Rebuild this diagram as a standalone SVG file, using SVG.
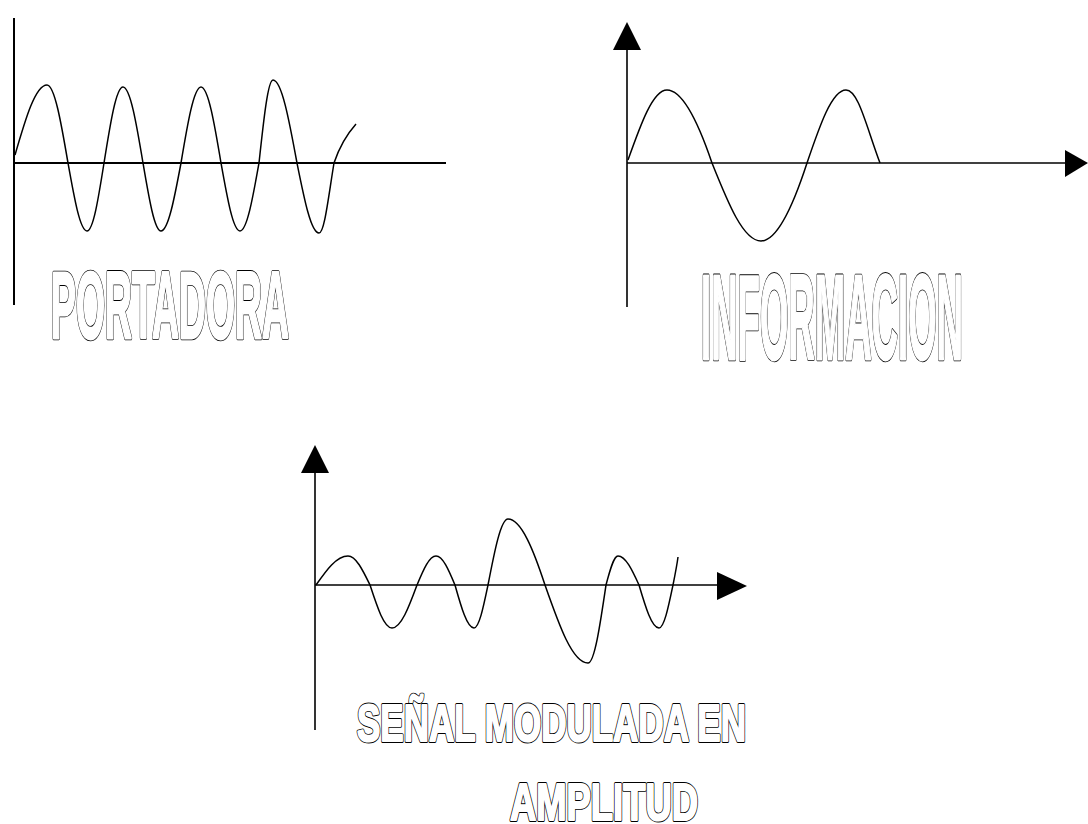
<svg xmlns="http://www.w3.org/2000/svg" width="1088" height="824" viewBox="0 0 1088 824">
<style>
.axis{stroke:#000;stroke-width:2;fill:none}
.axis2{stroke:#000;stroke-width:1.6;fill:none}
.wave{stroke:#000;stroke-width:1.5;fill:none;stroke-linejoin:round}
.lbl{font-family:"Liberation Sans",Arial,sans-serif;font-weight:bold}
.o1{fill:#000;stroke:#000;stroke-width:4.6;stroke-linejoin:round}
.o2{fill:#fff;stroke:#fff;stroke-width:2.8;stroke-linejoin:round}
.s1{fill:#000;stroke:#000;stroke-width:4;stroke-linejoin:round}
.s2{fill:#fff;stroke:#fff;stroke-width:2.2;stroke-linejoin:round}
.head{fill:#000;stroke:none}
</style>
<defs>
<text id="t-portadora" class="lbl" x="51" y="338" font-size="94" textLength="238" lengthAdjust="spacingAndGlyphs">PORTADORA</text>
<text id="t-informacion" class="lbl" x="701" y="359" font-size="120" textLength="262" lengthAdjust="spacingAndGlyphs">INFORMACION</text>
<text id="t-senal" class="lbl" x="357" y="741" font-size="52" textLength="389" lengthAdjust="spacingAndGlyphs">SEÑAL MODULADA EN</text>
<text id="t-amplitud" class="lbl" x="510" y="820" font-size="52" textLength="188" lengthAdjust="spacingAndGlyphs">AMPLITUD</text>
</defs>
<rect width="1088" height="824" fill="#fff"/>
<g id="portadora">
<g id="portadora-axes">
<line class="axis" x1="14" y1="18" x2="14" y2="305"/>
<line class="axis" x1="14" y1="163" x2="446" y2="163"/>
</g>
<path class="wave" d="M15,155 C25.4,119.2 35.4,85 47,85 C54.6,85 61.2,123.1 68,163 C74.2,197.8 80.1,231 87,231 C93.2,231 98.5,197.8 104,163 C110.2,124.1 116.1,87 123,87 C130.2,87 136.5,124.1 143,163 C148.9,197.8 154.5,231 161,231 C168.2,231 174.5,197.8 181,163 C187.5,124.1 193.8,87 201,87 C208.2,87 214.5,124.1 221,163 C227.2,197.8 233.1,231 240,231 C246.9,231 252.8,197.8 259,163 C263.6,120.5 267.9,80 273,80 C281.7,80 289.2,120.5 297,163 C304.2,198.8 311,233 319,233 C324.4,233 328.1,198.8 334,163 C340,145 348,133 356,124"/>
<use href="#t-portadora" class="o1"/>
<use href="#t-portadora" class="o2"/>
</g>
<g id="informacion">
<g id="informacion-axes">
<line class="axis2" x1="627" y1="46" x2="627" y2="307"/>
<polygon class="head" points="627,22 613,50 641,50"/>
<line class="axis2" x1="627" y1="163" x2="1068" y2="163"/>
<polygon class="head" points="1088,163 1065,150 1065,177"/>
</g>
<path class="wave" d="M628,160 C640.7,124.2 652.9,90 667,90 C683.3,90 699.3,125.6 712,163 C728,203 743.3,241 761,241 C777.7,241 794,203 807,163 C819.7,125.6 831.9,90 846,90 C858.3,90 866,125.6 880,163"/>
<use href="#t-informacion" class="o1"/>
<use href="#t-informacion" class="o2"/>
</g>
<g id="modulada">
<g id="modulada-axes">
<line class="axis2" x1="315" y1="470" x2="315" y2="730"/>
<polygon class="head" points="315,445 301,473 329,473"/>
<line class="axis2" x1="315" y1="585" x2="720" y2="585"/>
<polygon class="head" points="747,586 717,572 717,600"/>
</g>
<path class="wave" d="M316,585 C326.4,570.2 336.4,556 348,556 C356,556 362.8,570.2 370,585 C377.2,607 384,628 392,628 C401,628 408.9,607 417,585 C423.2,570.2 429.1,556 436,556 C442.9,556 448.8,570.2 455,585 C461.2,607 467.1,628 474,628 C479.1,628 483.4,607 488,585 C494.5,551.2 500.8,519 508,519 C521.4,519 533.9,551.2 545,585 C559,625 572.4,663 588,663 C594.5,663 600.1,625 606,585 C609.9,570.2 613.7,556 618,556 C625.6,556 632.2,570.2 639,585 C645.5,607 651.8,628 659,628 C664.1,628 668.4,607 673,585 C675,575 677,565 678,557"/>
<use href="#t-senal" class="s1"/>
<use href="#t-senal" class="s2"/>
<use href="#t-amplitud" class="s1"/>
<use href="#t-amplitud" class="s2"/>
</g>
</svg>
